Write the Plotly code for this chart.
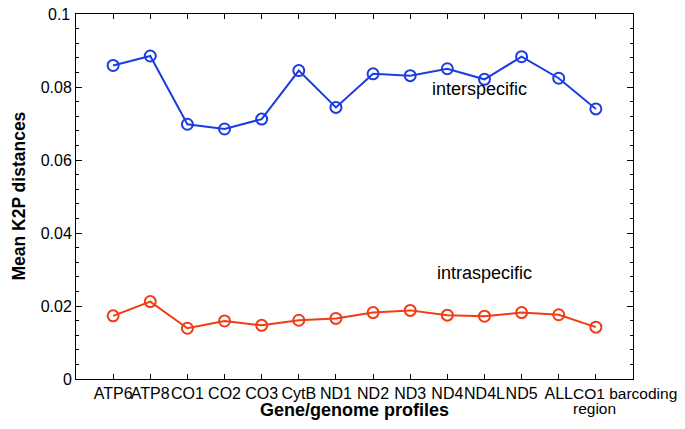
import plotly.graph_objects as go

categories = ["ATP6", "ATP8", "CO1", "CO2", "CO3", "CytB", "ND1", "ND2", "ND3",
              "ND4", "ND4L", "ND5", "ALL", "CO1 barcoding region"]
tick_labels = ["ATP6", "ATP8", "CO1", "CO2", "CO3", "CytB", "ND1", "ND2", "ND3",
               "ND4", "ND4L", "ND5", "ALL", ""]
interspecific = [0.0859, 0.0885, 0.0698, 0.0685, 0.0712, 0.0845, 0.0744, 0.0836,
                 0.0831, 0.0850, 0.0821, 0.0883, 0.0824, 0.0740]
intraspecific = [0.0173, 0.0212, 0.0139, 0.0159, 0.0147, 0.0161, 0.0166, 0.0182,
                 0.0188, 0.0175, 0.0172, 0.0182, 0.0176, 0.0142]
y_ticks = [0, 0.02, 0.04, 0.06, 0.08, 0.1]
y_tick_labels = ["0", "0.02", "0.04", "0.06", "0.08", "0.1"]

xs = list(range(len(categories)))
BLUE = "#1c3de2"
RED = "#f03c14"
FONT = "Liberation Sans, Arial, Helvetica, sans-serif"

fig = go.Figure()
fig.add_trace(go.Scatter(x=xs, y=interspecific, mode="lines+markers",
                         line=dict(color=BLUE, width=2),
                         marker=dict(symbol="circle-open", size=11, color=BLUE,
                                     line=dict(width=2, color=BLUE)),
                         showlegend=False))
fig.add_trace(go.Scatter(x=xs, y=intraspecific, mode="lines+markers",
                         line=dict(color=RED, width=2),
                         marker=dict(symbol="circle-open", size=11, color=RED,
                                     line=dict(width=2, color=RED)),
                         showlegend=False))

fig.add_annotation(x=9.86, y=0.0795, text="interspecific", showarrow=False,
                   font=dict(size=18, color="black", family=FONT))
fig.add_annotation(x=10.0, y=0.029, text="intraspecific", showarrow=False,
                   font=dict(size=18, color="black", family=FONT))
# last category label (two lines, left-aligned like the original)
fig.add_annotation(x=12.33, xref="x", y=-0.0384, yref="paper", yanchor="middle", xanchor="left",
                   text="CO1 barcoding", showarrow=False,
                   font=dict(size=15.5, color="black", family=FONT))
fig.add_annotation(x=12.33, xref="x", y=-0.0795, yref="paper", yanchor="middle", xanchor="left",
                   text="region", showarrow=False,
                   font=dict(size=15.5, color="black", family=FONT))
# top y tick label (kept as annotation so the tight top margin does not hide it)
fig.add_annotation(x=0, xref="paper", y=y_ticks[-1], yref="y", xanchor="right", yanchor="middle",
                   xshift=-4, text=y_tick_labels[-1], showarrow=False,
                   font=dict(size=16, color="black", family=FONT))
# axis titles
fig.add_annotation(x=0.5, xref="paper", y=-0.0849, yref="paper", yanchor="middle", xanchor="center",
                   text="<b>Gene/genome profiles</b>", showarrow=False,
                   font=dict(size=18, color="black", family=FONT))
fig.add_annotation(x=-0.104, xref="paper", y=0.5, yref="paper", yanchor="middle", xanchor="center",
                   text="<b>Mean K2P distances</b>", textangle=-90, showarrow=False,
                   font=dict(size=17.5, color="black", family=FONT))

# page body has an 8px default margin: compensate so the plot area sits where the original's does
fig.update_layout(
    width=677, height=421,
    margin=dict(l=68, r=52, t=6, b=50),
    plot_bgcolor="white", paper_bgcolor="white",
    font=dict(family=FONT, color="black"),
    xaxis=dict(range=[-1, 14], tickmode="array", tickvals=xs, ticktext=tick_labels,
               tickangle=0, automargin=False,
               ticks="inside", ticklen=5, tickwidth=1, tickcolor="black",
               showline=True, linecolor="black", linewidth=1, mirror="ticks",
               showgrid=False, zeroline=False,
               tickfont=dict(size=16)),
    yaxis=dict(range=[0, 0.1], tickmode="array", tickvals=y_ticks[:-1], ticktext=y_tick_labels[:-1],
               automargin=False,
               ticks="inside", ticklen=6, tickwidth=1, tickcolor="black",
               showline=True, linecolor="black", linewidth=1, mirror="ticks",
               showgrid=False, zeroline=False,
               tickfont=dict(size=16),
               minor=dict(dtick=0.004, ticks="inside", ticklen=3, tickcolor="black", showgrid=False)),
)

fig.write_html("out.html")
